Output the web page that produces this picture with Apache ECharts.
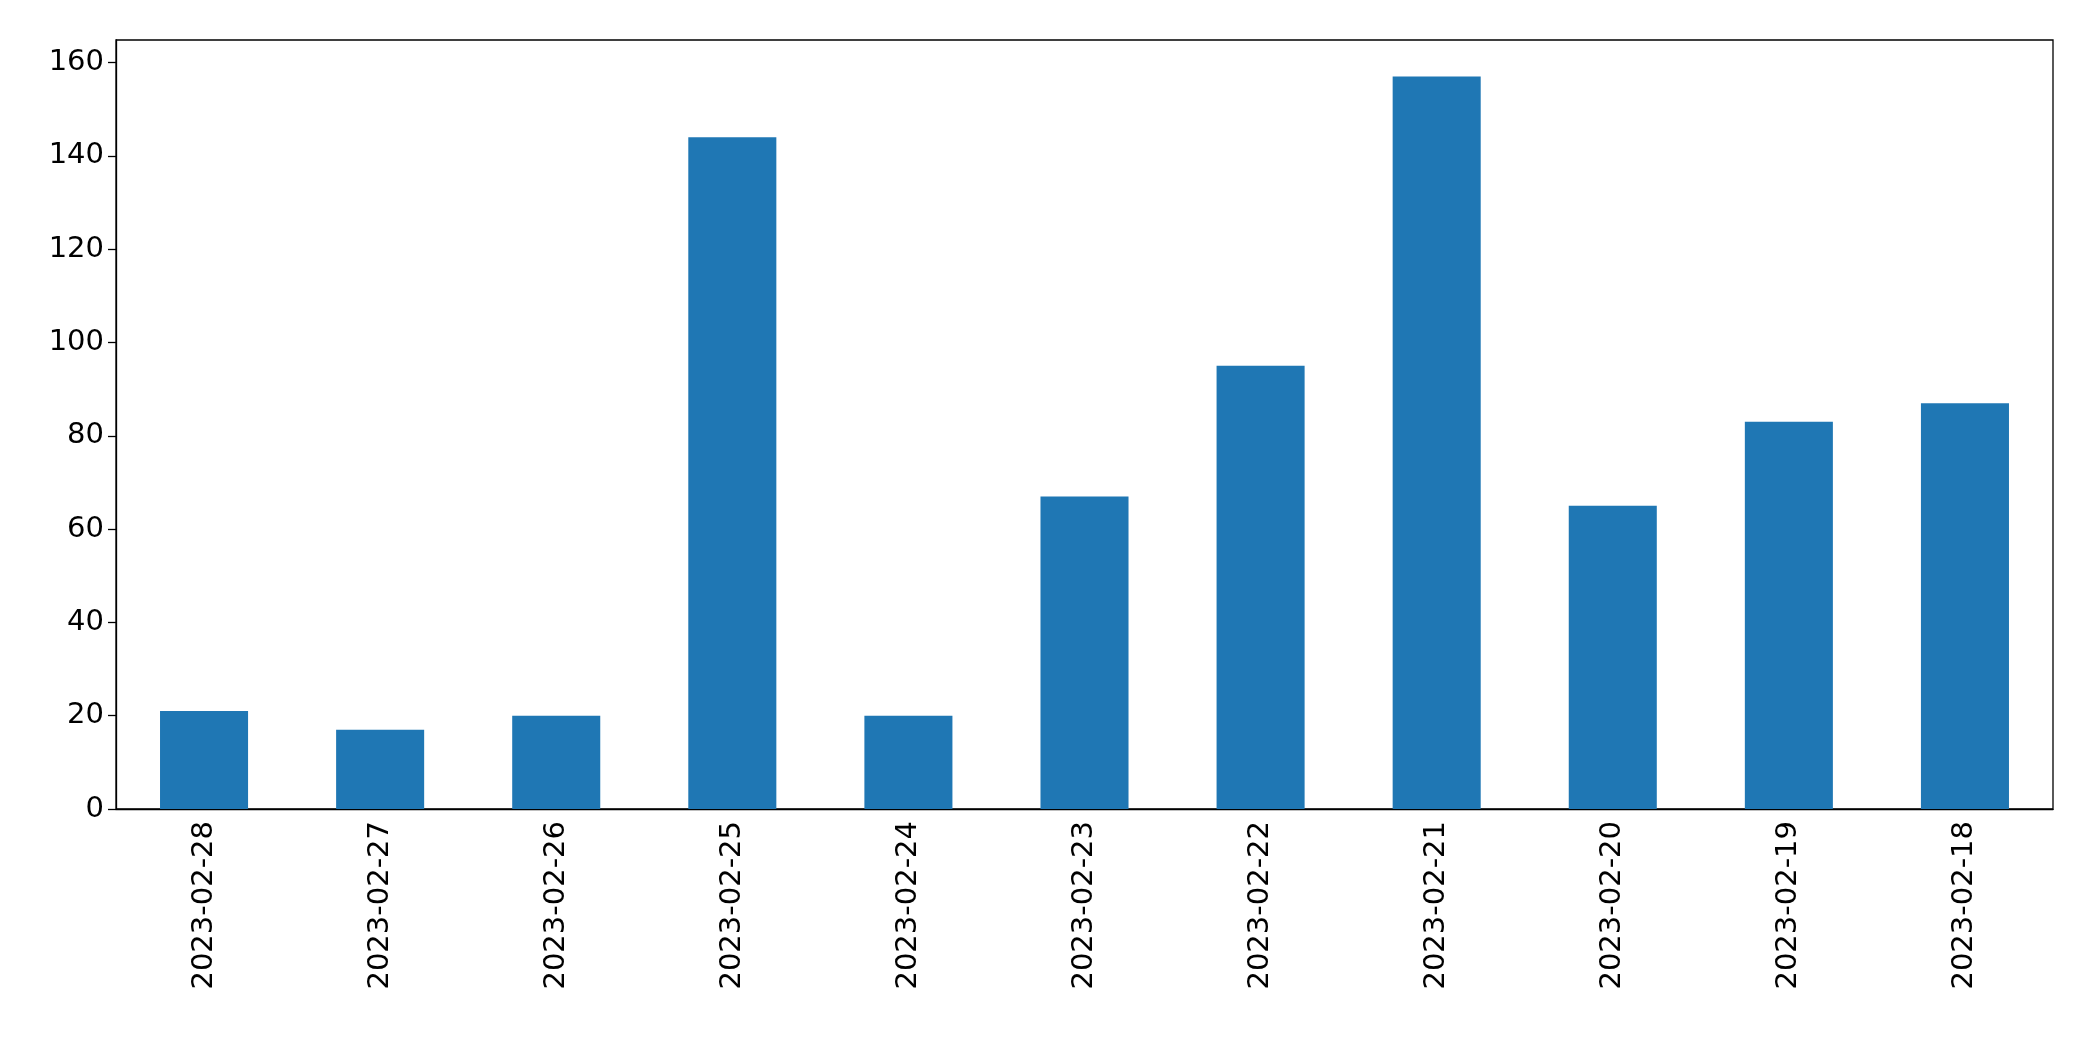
<!DOCTYPE html>
<html><head><meta charset="utf-8">
<script src="https://cdn.jsdelivr.net/npm/echarts@6/dist/echarts.min.js"></script>
<style>html,body{margin:0;padding:0;background:#fff}#c{width:2093px;height:1061px}</style>
</head><body><div id="c"></div>
<script>
const categories = ['2023-02-28','2023-02-27','2023-02-26','2023-02-25','2023-02-24','2023-02-23','2023-02-22','2023-02-21','2023-02-20','2023-02-19','2023-02-18'];
const values = [21,17,20,144,20,67,95,157,65,83,87];
const chart = echarts.init(document.getElementById('c'));
const font = {fontFamily:'DejaVu Sans', fontSize:29, color:'#000'};
chart.setOption({
  animation:false,
  grid:{left:116,right:40,top:40,bottom:252,show:true,borderColor:'#000',borderWidth:1.3},
  xAxis:{type:'category',data:categories,
    axisLine:{lineStyle:{color:'#000',width:1.3}},
    axisTick:{alignWithLabel:true,length:8,lineStyle:{color:'#000',width:1.3}},
    axisLabel:Object.assign({rotate:90,margin:12},font)},
  yAxis:{type:'value',min:0,max:164.85,interval:20,
    splitLine:{show:false},
    axisLine:{show:true,lineStyle:{color:'#000',width:1.3}},
    axisTick:{show:true,length:8,lineStyle:{color:'#000',width:1.3}},
    axisLabel:Object.assign({margin:12,showMaxLabel:false},font)},
  series:[{type:'bar',data:values,barWidth:'50%',itemStyle:{color:'#1f77b4'}}]
});
</script></body></html>
